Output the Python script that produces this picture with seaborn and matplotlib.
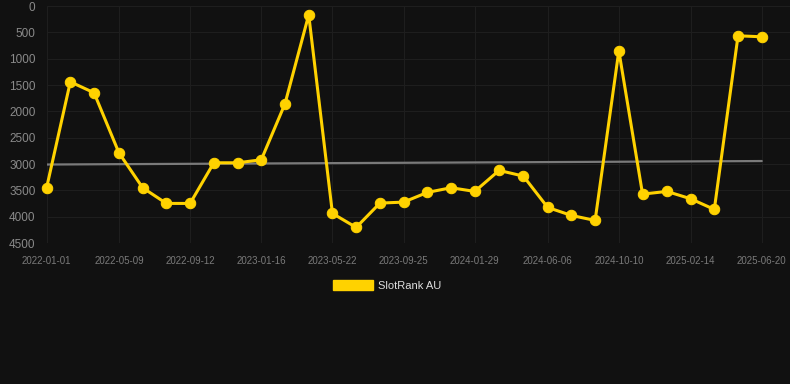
import numpy as np
import pandas as pd
import matplotlib
matplotlib.use("Agg")
import matplotlib.pyplot as plt
import matplotlib.dates as mdates
from matplotlib.patches import Patch
import seaborn as sns

# Data
dates = [
    "2022-01-01", "2022-02-12", "2022-03-26", "2022-05-09", "2022-06-20",
    "2022-08-01", "2022-09-12", "2022-10-24", "2022-12-05", "2023-01-16",
    "2023-02-27", "2023-04-10", "2023-05-22", "2023-07-03", "2023-08-14",
    "2023-09-25", "2023-11-06", "2023-12-18", "2024-01-29", "2024-03-12",
    "2024-04-24", "2024-06-06", "2024-07-18", "2024-08-29", "2024-10-10",
    "2024-11-21", "2025-01-03", "2025-02-14", "2025-03-28", "2025-05-09",
    "2025-06-20",
]
ranks = [
    3449, 1437, 1646, 2785, 3449, 3747, 3747, 2975, 2975, 2918,
    1854, 165, 3937, 4203, 3741, 3722, 3538, 3449, 3519, 3120,
    3228, 3823, 3975, 4070, 848, 3570, 3519, 3658, 3861, 563,
    582,
]
tick_dates = [
    "2022-01-01", "2022-05-09", "2022-09-12", "2023-01-16", "2023-05-22",
    "2023-09-25", "2024-01-29", "2024-06-06", "2024-10-10", "2025-02-14",
    "2025-06-20",
]
trend_dates = ["2022-01-01", "2025-06-20"]
trend_values = [3008, 2942]
y_ticks = [0, 500, 1000, 1500, 2000, 2500, 3000, 3500, 4000, 4500]

df = pd.DataFrame({"date": pd.to_datetime(dates), "rank": ranks})
trend = pd.DataFrame({"date": pd.to_datetime(trend_dates), "rank": trend_values})

BG = "#111111"
GOLD = "#FFD200"

sns.set_theme(style="dark")
plt.rcParams["font.family"] = ["Liberation Sans", "DejaVu Sans"]

fig = plt.figure(figsize=(7.9, 3.84), dpi=100, facecolor=BG)
ax = fig.add_axes([0.059, 0.367, 0.941, 0.617])
ax.set_facecolor(BG)

sns.lineplot(data=trend, x="date", y="rank", ax=ax, color="#7a7a7a",
             linewidth=1.6, zorder=2)
sns.lineplot(data=df, x="date", y="rank", ax=ax, color=GOLD, linewidth=2.2,
             marker="o", markersize=7.5, markeredgecolor=GOLD, zorder=3,
             clip_on=False)

ax.set_ylim(4500, 0)
ax.set_xlim(pd.Timestamp("2022-01-01"), pd.Timestamp("2025-08-09"))
ax.set_yticks(y_ticks)
ax.set_xticks(pd.to_datetime(tick_dates))
ax.xaxis.set_major_formatter(mdates.DateFormatter("%Y-%m-%d"))

ax.grid(True, color="#1e1e1e", linewidth=0.8)
for s in ax.spines.values():
    s.set_visible(False)
ax.tick_params(axis="both", length=0)
ax.tick_params(axis="y", labelsize=8.5, pad=8, colors="#8a8a8a")
ax.tick_params(axis="x", labelsize=7, pad=9, colors="#7a7a7a")
ax.set_xlabel("")
ax.set_ylabel("")

fig.legend(handles=[Patch(facecolor=GOLD, edgecolor=GOLD, label="SlotRank AU")],
           loc="center", bbox_to_anchor=(0.490, 0.256), frameon=False,
           fontsize=8, labelcolor="#dddddd", handlelength=3.6,
           handleheight=1.0, handletextpad=0.5)

fig.savefig("out.png", dpi=100, facecolor=BG)
